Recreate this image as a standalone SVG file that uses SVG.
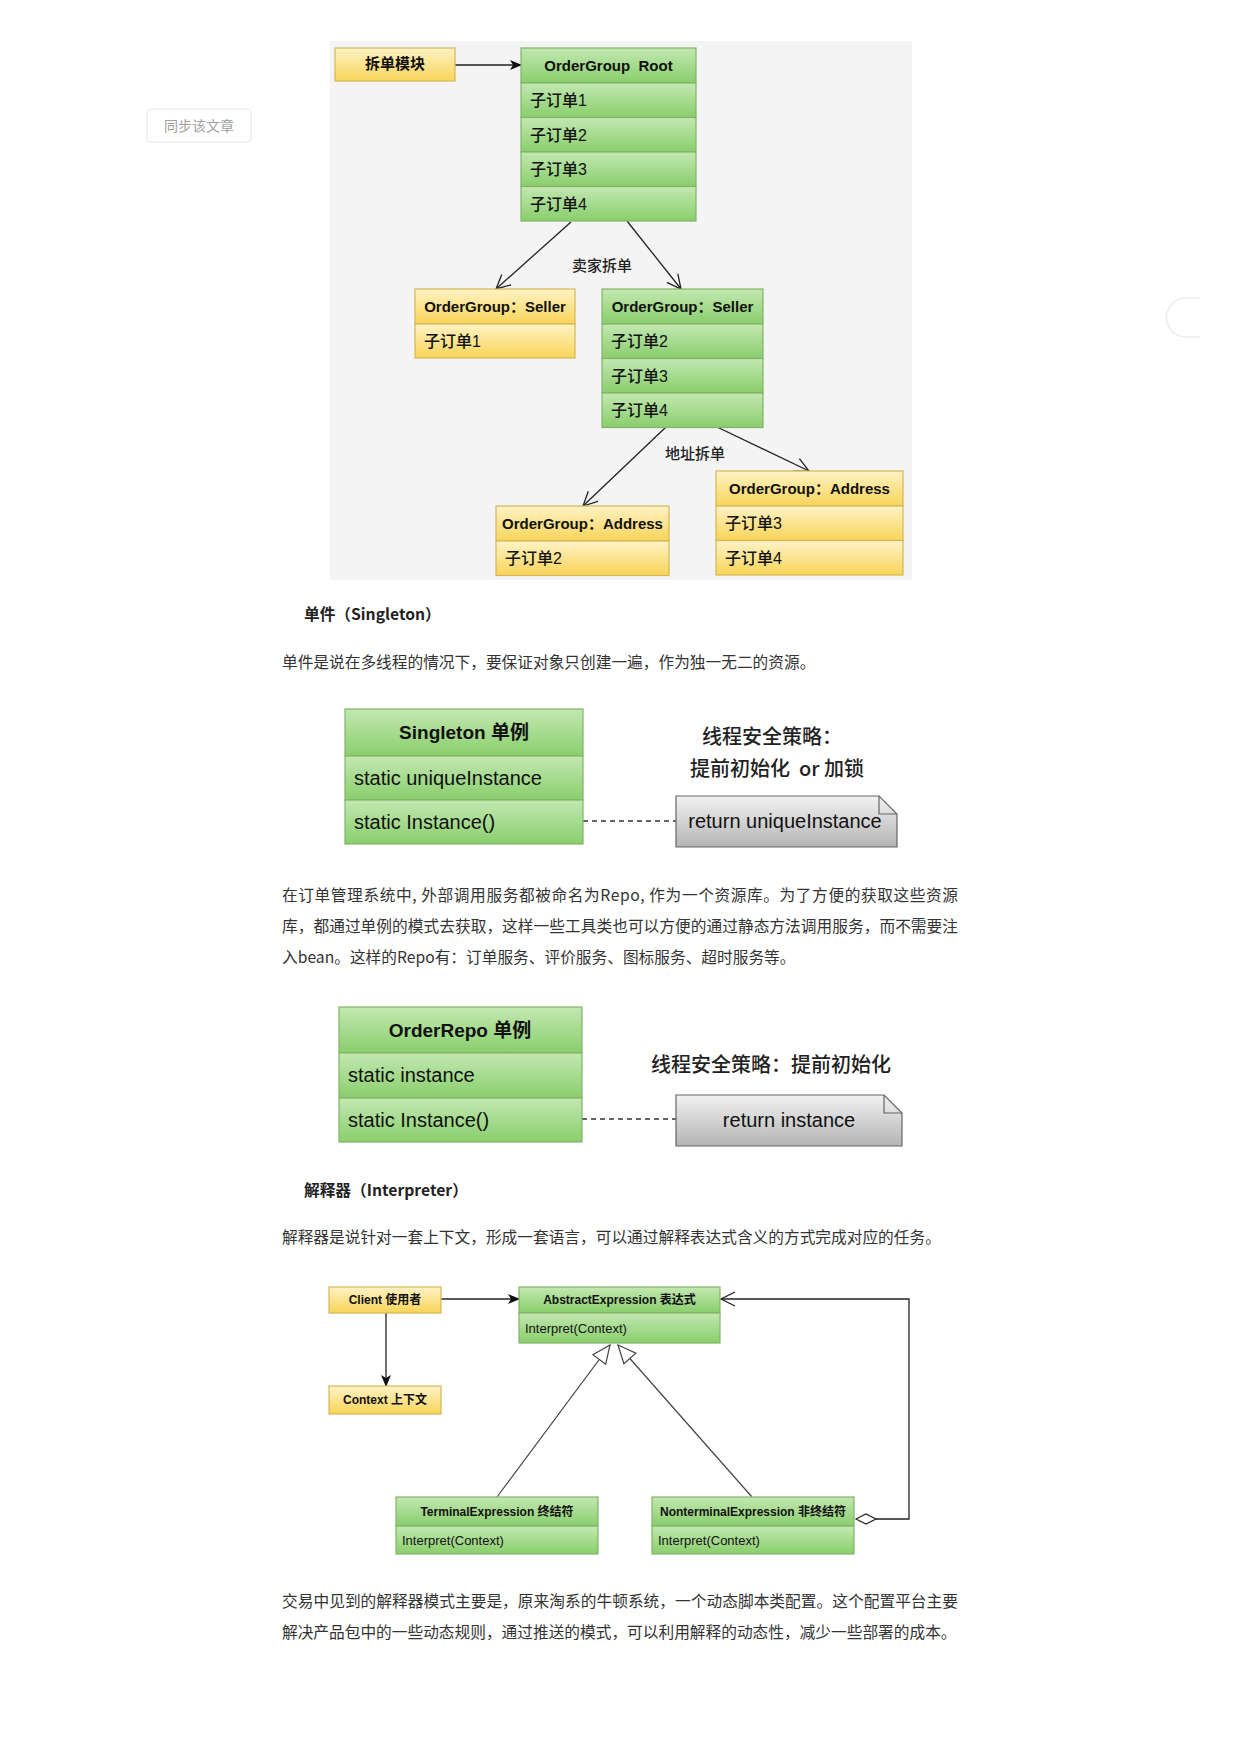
<svg xmlns="http://www.w3.org/2000/svg" width="1241" height="1754" viewBox="0 0 1241 1754">
<defs>
<linearGradient id="gG" x1="0" y1="0" x2="0" y2="1"><stop offset="0" stop-color="#c3e8b2"/><stop offset="1" stop-color="#89ce6c"/></linearGradient>
<linearGradient id="gY" x1="0" y1="0" x2="0" y2="1"><stop offset="0" stop-color="#fff3c6"/><stop offset="1" stop-color="#f8d458"/></linearGradient>
<linearGradient id="gN" x1="0" y1="0" x2="0" y2="1"><stop offset="0" stop-color="#f2f2f2"/><stop offset="1" stop-color="#b4b4b4"/></linearGradient>
<marker id="mFill" viewBox="0 0 12 10" refX="11" refY="5" markerWidth="12" markerHeight="10" markerUnits="userSpaceOnUse" orient="auto"><path d="M0,0 L12,5 L0,10 L3,5 Z" fill="#111"/></marker>
<marker id="mOpen" viewBox="0 0 16 16" refX="15" refY="8" markerWidth="16" markerHeight="16" markerUnits="userSpaceOnUse" orient="auto"><path d="M1,1 L15,8 L1,15" fill="none" stroke="#222" stroke-width="1.3"/></marker>
<marker id="mTri" viewBox="0 0 20 20" refX="19" refY="10" markerWidth="20" markerHeight="20" markerUnits="userSpaceOnUse" orient="auto"><path d="M1,2 L19,10 L1,18 Z" fill="#fff" stroke="#444" stroke-width="1.2"/></marker>
<style>
.g{fill:url(#gG);stroke:#82b366;stroke-width:1.2}
.y{fill:url(#gY);stroke:#d6b656;stroke-width:1.2}
.note{fill:url(#gN);stroke:#666;stroke-width:1.2}
.hd{font-family:"Liberation Sans","Noto Sans CJK SC",sans-serif;font-weight:bold;font-size:15px;fill:#111;text-anchor:middle;white-space:pre}
.row{font-family:"Liberation Sans","Noto Sans CJK SC",sans-serif;font-size:16px;font-weight:500;fill:#111}
.lbl{font-family:"Noto Sans CJK SC",sans-serif;font-size:15px;font-weight:500;fill:#222;text-anchor:middle}
.big{font-family:"Liberation Sans","Noto Sans CJK SC",sans-serif;font-size:20px;fill:#111}
.bighd{font-family:"Liberation Sans","Noto Sans CJK SC",sans-serif;font-weight:bold;font-size:19px;fill:#111;text-anchor:middle}
.strat{font-family:"Noto Sans CJK SC",sans-serif;font-size:20px;font-weight:500;fill:#222;text-anchor:middle;white-space:pre}
.shd{font-family:"Liberation Sans","Noto Sans CJK SC",sans-serif;font-weight:bold;font-size:12px;fill:#111;text-anchor:middle}
.srow{font-family:"Liberation Sans","Noto Sans CJK SC",sans-serif;font-size:13px;fill:#111}
.p{font-family:"Noto Sans CJK SC",sans-serif;font-size:15.7px;fill:#333}
.h{font-family:"Noto Sans CJK SC",sans-serif;font-size:15.7px;font-weight:bold;fill:#222}
.ln{fill:none;stroke:#222;stroke-width:1.3}
</style>
</defs>
<rect width="1241" height="1754" fill="#fff"/>

<!-- page chrome -->
<g id="sync-button">
<rect x="147" y="109" width="104" height="33" rx="4" fill="#fff" stroke="#e6e6e6"/>
<text x="199" y="131" font-family="Noto Sans CJK SC,sans-serif" font-size="14" fill="#a0a0a0" text-anchor="middle">同步该文章</text>
</g>
<g id="side-handle">
<path d="M1200,298 H1186 A19.5,19.5 0 0 0 1186,337 H1200" fill="#fff" stroke="#ececec" stroke-width="1.5"/>
</g>

<!-- Diagram 1: order splitting -->
<rect x="330" y="41" width="582" height="539" fill="#f4f4f4"/>
<g id="connectors-1">
<line class="ln" x1="455" y1="65" x2="521" y2="65" marker-end="url(#mFill)"/>
<line class="ln" x1="571" y1="222" x2="496" y2="289" marker-end="url(#mOpen)"/>
<line class="ln" x1="627" y1="221" x2="681" y2="289" marker-end="url(#mOpen)"/>
<line class="ln" x1="666" y1="427" x2="583" y2="506" marker-end="url(#mOpen)"/>
<line class="ln" x1="717" y1="427" x2="809" y2="471" marker-end="url(#mOpen)"/>
<text class="lbl" x="602" y="271">卖家拆单</text>
<text class="lbl" x="695" y="459">地址拆单</text>
</g>
<g id="split-module">
<rect class="y" x="335" y="48" width="120" height="33"/>
<text class="hd" x="395" y="69" font-size="13">拆单模块</text>
</g>
<g id="root">
<rect class="g" x="521" y="48" width="175" height="35"/>
<rect class="g" x="521" y="83" width="175" height="34.5"/>
<rect class="g" x="521" y="117.5" width="175" height="34.5"/>
<rect class="g" x="521" y="152" width="175" height="34.5"/>
<rect class="g" x="521" y="186.5" width="175" height="34.5"/>
<text class="hd" x="608.5" y="71">OrderGroup  Root</text>
<text class="row" x="530" y="106">子订单1</text>
<text class="row" x="530" y="140.5">子订单2</text>
<text class="row" x="530" y="175">子订单3</text>
<text class="row" x="530" y="209.5">子订单4</text>
</g>
<g id="seller-1">
<rect class="y" x="415" y="289" width="160" height="35"/>
<rect class="y" x="415" y="324" width="160" height="34"/>
<text class="hd" x="495" y="312">OrderGroup：Seller</text>
<text class="row" x="424" y="347">子订单1</text>
</g>
<g id="seller-2">
<rect class="g" x="602" y="289" width="161" height="35"/>
<rect class="g" x="602" y="324" width="161" height="34.5"/>
<rect class="g" x="602" y="358.5" width="161" height="34.5"/>
<rect class="g" x="602" y="393" width="161" height="34.5"/>
<text class="hd" x="682.5" y="312">OrderGroup：Seller</text>
<text class="row" x="611" y="347">子订单2</text>
<text class="row" x="611" y="381.5">子订单3</text>
<text class="row" x="611" y="416">子订单4</text>
</g>
<g id="address-1">
<rect class="y" x="496" y="506" width="173" height="35"/>
<rect class="y" x="496" y="541" width="173" height="34.5"/>
<text class="hd" x="582.5" y="529">OrderGroup：Address</text>
<text class="row" x="505" y="564">子订单2</text>
</g>
<g id="address-2">
<rect class="y" x="716" y="471" width="187" height="35"/>
<rect class="y" x="716" y="506" width="187" height="34.5"/>
<rect class="y" x="716" y="540.5" width="187" height="34.5"/>
<text class="hd" x="809.5" y="494">OrderGroup：Address</text>
<text class="row" x="725" y="529">子订单3</text>
<text class="row" x="725" y="563.5">子订单4</text>
</g>

<!-- Singleton section -->
<text class="h" x="304" y="620">单件（Singleton）</text>
<text class="p" x="282" y="668">单件是说在多线程的情况下，要保证对象只创建一遍，作为独一无二的资源。</text>

<g id="connectors-2">
<line x1="583" y1="821" x2="676" y2="821" stroke="#333" stroke-width="1.3" stroke-dasharray="5,4"/>
</g>
<g id="singleton">
<rect class="g" x="345" y="709" width="238" height="47"/>
<rect class="g" x="345" y="756" width="238" height="44"/>
<rect class="g" x="345" y="800" width="238" height="44"/>
<text class="bighd" x="464" y="739">Singleton 单例</text>
<text class="big" x="354" y="785">static uniqueInstance</text>
<text class="big" x="354" y="829">static Instance()</text>
</g>
<g id="singleton-note">
<path class="note" d="M676,796 H879 L897,814 V847 H676 Z"/>
<path d="M879,796 V814 H897" fill="none" stroke="#666" stroke-width="1.2"/>
<text class="big" x="785" y="828" text-anchor="middle">return uniqueInstance</text>
</g>
<g id="singleton-strategy">
<text class="strat" x="772" y="744">线程安全策略：</text>
<text class="strat" x="777" y="776">提前初始化  or 加锁</text>
</g>

<text class="p" x="282" y="901" textLength="676" lengthAdjust="spacing">在订单管理系统中, 外部调用服务都被命名为Repo, 作为一个资源库。为了方便的获取这些资源</text>
<text class="p" x="282" y="932" textLength="676" lengthAdjust="spacing">库，都通过单例的模式去获取，这样一些工具类也可以方便的通过静态方法调用服务，而不需要注</text>
<text class="p" x="282" y="963">入bean。这样的Repo有：订单服务、评价服务、图标服务、超时服务等。</text>

<g id="connectors-3">
<line x1="582" y1="1119" x2="676" y2="1119" stroke="#333" stroke-width="1.3" stroke-dasharray="5,4"/>
</g>
<g id="orderrepo">
<rect class="g" x="339" y="1007" width="243" height="46"/>
<rect class="g" x="339" y="1053" width="243" height="45"/>
<rect class="g" x="339" y="1098" width="243" height="44"/>
<text class="bighd" x="460" y="1037">OrderRepo 单例</text>
<text class="big" x="348" y="1082">static instance</text>
<text class="big" x="348" y="1127">static Instance()</text>
</g>
<g id="orderrepo-note">
<path class="note" d="M676,1095 H884 L902,1113 V1146 H676 Z"/>
<path d="M884,1095 V1113 H902" fill="none" stroke="#666" stroke-width="1.2"/>
<text class="big" x="789" y="1127" text-anchor="middle">return instance</text>
</g>
<g id="orderrepo-strategy">
<text class="strat" x="771" y="1072" font-size="21">线程安全策略：提前初始化</text>
</g>

<!-- Interpreter section -->
<text class="h" x="304" y="1196">解释器（Interpreter）</text>
<text class="p" x="282" y="1243">解释器是说针对一套上下文，形成一套语言，可以通过解释表达式含义的方式完成对应的任务。</text>

<g id="connectors-4">
<line class="ln" x1="386" y1="1313" x2="386" y2="1386" marker-end="url(#mFill)"/>
<line class="ln" x1="441" y1="1299" x2="519" y2="1299" marker-end="url(#mFill)"/>
<line x1="497" y1="1497" x2="610" y2="1345" stroke="#444" stroke-width="1.2" marker-end="url(#mTri)"/>
<line x1="752" y1="1497" x2="618" y2="1345" stroke="#444" stroke-width="1.2" marker-end="url(#mTri)"/>
<path class="ln" d="M876,1519 H909 V1299 H721" marker-end="url(#mOpen)"/>
<polygon points="856,1519 866,1514 876,1519 866,1524" fill="#fff" stroke="#222" stroke-width="1.2"/>
</g>
<g id="client">
<rect class="y" x="329" y="1287" width="112" height="26"/>
<text class="shd" x="385" y="1304">Client 使用者</text>
</g>
<g id="context">
<rect class="y" x="329" y="1386" width="112" height="28"/>
<text class="shd" x="385" y="1404">Context 上下文</text>
</g>
<g id="abstract-expression">
<rect class="g" x="519" y="1287" width="201" height="26"/>
<rect class="g" x="519" y="1313" width="201" height="30"/>
<text class="shd" x="619.5" y="1304">AbstractExpression 表达式</text>
<text class="srow" x="525" y="1333">Interpret(Context)</text>
</g>
<g id="terminal-expression">
<rect class="g" x="396" y="1497" width="202" height="29"/>
<rect class="g" x="396" y="1526" width="202" height="28"/>
<text class="shd" x="497" y="1516">TerminalExpression 终结符</text>
<text class="srow" x="402" y="1545">Interpret(Context)</text>
</g>
<g id="nonterminal-expression">
<rect class="g" x="652" y="1497" width="202" height="29"/>
<rect class="g" x="652" y="1526" width="202" height="28"/>
<text class="shd" x="753" y="1516">NonterminalExpression 非终结符</text>
<text class="srow" x="658" y="1545">Interpret(Context)</text>
</g>

<text class="p" x="282" y="1607" textLength="676" lengthAdjust="spacing">交易中见到的解释器模式主要是，原来淘系的牛顿系统，一个动态脚本类配置。这个配置平台主要</text>
<text class="p" x="282" y="1638">解决产品包中的一些动态规则，通过推送的模式，可以利用解释的动态性，减少一些部署的成本。</text>
</svg>
